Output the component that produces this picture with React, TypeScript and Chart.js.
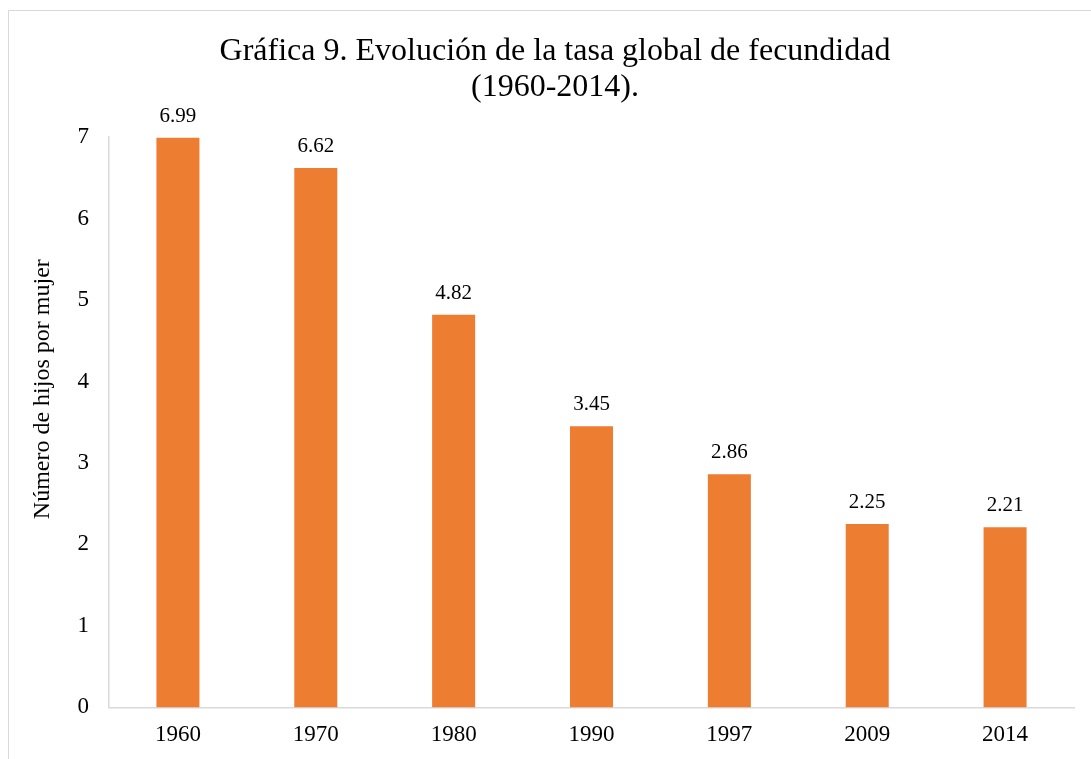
import React, { useEffect, useRef } from "react";
import { Chart, registerables } from "chart.js";

Chart.register(...registerables);

const categories: string[] = ["1960", "1970", "1980", "1990", "1997", "2009", "2014"];
const fertility: number[] = [6.99, 6.62, 4.82, 3.45, 2.86, 2.25, 2.21];
const titleLines: string[] = ["Gráfica 9. Evolución de la tasa global de fecundidad", "(1960-2014)."];
const yAxisTitle = "Número de hijos por mujer";
const yMin = 0;
const yMax = 7;

const SERIF = "'Liberation Serif', 'Times New Roman', Times, serif";

const dataLabelPlugin = {
  id: "dataLabels",
  afterDatasetsDraw(chart: any) {
    const ctx = chart.ctx;
    const meta = chart.getDatasetMeta(0);
    const data = chart.data.datasets[0].data as number[];
    ctx.save();
    ctx.font = `21px ${SERIF}`;
    ctx.fillStyle = "#000000";
    ctx.textAlign = "center";
    ctx.textBaseline = "alphabetic";
    meta.data.forEach((bar: any, i: number) => {
      ctx.fillText(data[i].toFixed(2), bar.x, bar.y - 16);
    });
    ctx.restore();
  },
};

export default function App() {
  const canvasRef = useRef<HTMLCanvasElement | null>(null);

  useEffect(() => {
    if (!canvasRef.current) return;
    const chart = new Chart(canvasRef.current, {
      type: "bar",
      data: {
        labels: categories,
        datasets: [
          {
            label: "Tasa global de fecundidad",
            data: fertility,
            backgroundColor: "#ED7D31",
            borderWidth: 0,
            categoryPercentage: 1,
            barPercentage: 0.312,
          },
        ],
      },
      options: {
        responsive: false,
        animation: false,
        devicePixelRatio: 1,
        layout: { padding: { left: 36, right: 17, top: 0, bottom: -4 } },
        plugins: {
          legend: { display: false },
          tooltip: { enabled: false },
          title: {
            display: true,
            text: titleLines,
            color: "#000000",
            font: { family: SERIF, size: 32, weight: "normal", lineHeight: 36 / 32 },
            padding: { top: 34, bottom: 31 },
          },
        },
        scales: {
          x: {
            grid: { display: false, drawTicks: false },
            border: { display: true, color: "#d9d9d9", width: 1.5 },
            ticks: {
              color: "#000000",
              padding: 14,
              font: { family: SERIF, size: 23, lineHeight: 1.2 },
              maxRotation: 0,
            },
          },
          y: {
            min: yMin,
            max: yMax,
            grid: { display: false, drawTicks: false },
            border: { display: true, color: "#d9d9d9", width: 1.5 },
            ticks: {
              stepSize: 1,
              color: "#000000",
              padding: 20,
              font: { family: SERIF, size: 23, lineHeight: 1.2 },
            },
            title: {
              display: true,
              text: "           " + yAxisTitle,
              color: "#000000",
              font: { family: SERIF, size: 24, lineHeight: 14 / 24 },
              padding: { top: 0, bottom: 7.5 },
            },
          },
        },
      },
      plugins: [dataLabelPlugin],
    });
    return () => chart.destroy();
  }, []);

  return (
    <div style={{ position: "fixed", left: 0, top: 0, width: 1091, height: 759, overflow: "hidden", background: "#ffffff" }}>
      <div
        style={{
          position: "absolute",
          left: 8,
          top: 10,
          width: 1200,
          height: 900,
          border: "1.5px solid #d9d9d9",
          boxSizing: "border-box",
        }}
      />
      <canvas
        ref={canvasRef}
        width={1091}
        height={759}
        style={{ position: "absolute", left: 0, top: 0, width: 1091, height: 759 }}
      />
    </div>
  );
}
